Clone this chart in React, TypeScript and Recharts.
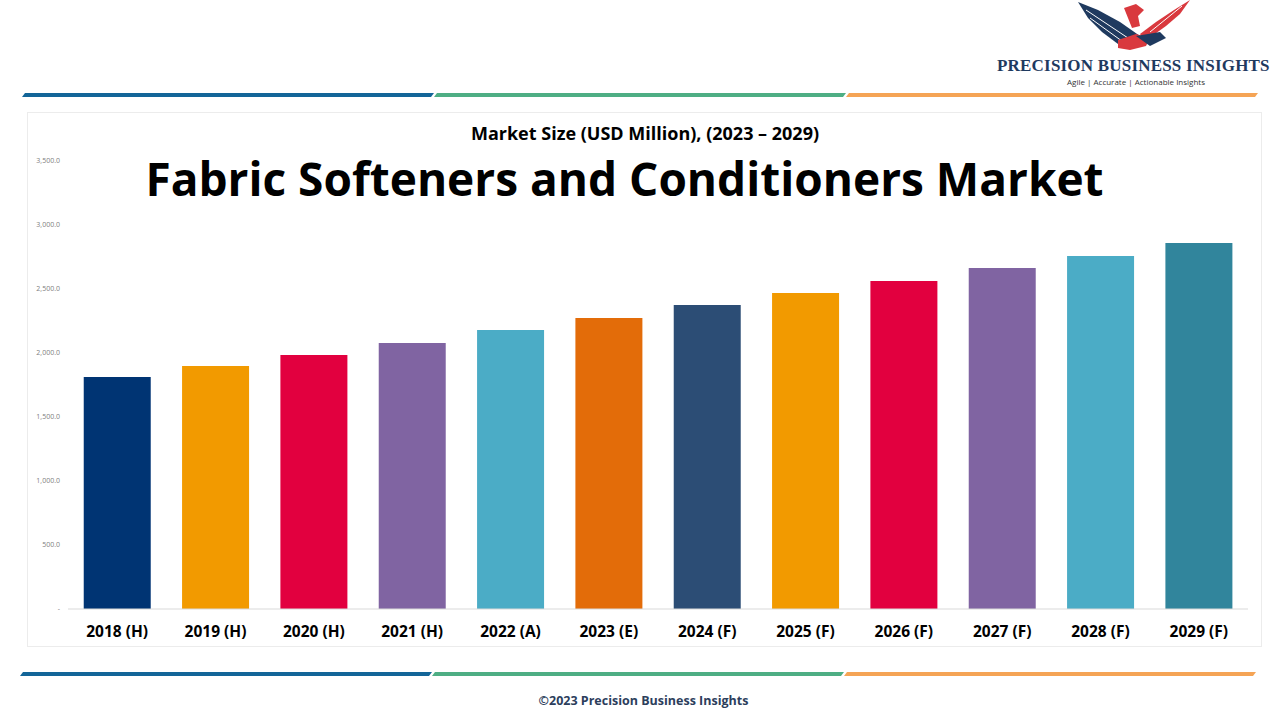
import React from 'react';
import { BarChart, Bar, XAxis, YAxis, Cell } from 'recharts';

const years = ['2018 (H)', '2019 (H)', '2020 (H)', '2021 (H)', '2022 (A)', '2023 (E)', '2024 (F)', '2025 (F)', '2026 (F)', '2027 (F)', '2028 (F)', '2029 (F)'];
const marketSize = [1812, 1898, 1984, 2078, 2180, 2273, 2375, 2469, 2563, 2664, 2758, 2859];
const barColors = ['#003473', '#F29A00', '#E2003F', '#8064A2', '#4BACC6', '#E36C09', '#2C4D75', '#F29A00', '#E2003F', '#8064A2', '#4BACC6', '#31859C'];
const yTicks = [0, 500, 1000, 1500, 2000, 2500, 3000, 3500];

const chartData = years.map((year, i) => ({ year, value: marketSize[i] }));

const FONT = '"Open Sans", "Noto Sans", sans-serif';

const fmtTick = (v: number) =>
  v === 0 ? '-' : v.toLocaleString('en-US', { minimumFractionDigits: 1, maximumFractionDigits: 1 });

// three-colour slanted stripe used above and below the chart
const Stripe = ({ y, x0 }: { y: number; x0: number }) => {
  const seg = 409;
  const cols = ['#136598', '#4EAE84', '#F5A455'];
  return (
    <svg style={{ position: 'absolute', left: 0, top: y, overflow: 'visible' }} width={1280} height={4}>
      {cols.map((c, i) => {
        const a = x0 + i * (seg + 3);
        return <polygon key={c} points={`${a + 3},0 ${a + seg + 3},0 ${a + seg},4 ${a},4`} fill={c} />;
      })}
    </svg>
  );
};

const Logo = () => (
  <div style={{ position: 'absolute', left: 990, top: 0, width: 290, height: 92 }}>
    <svg width={290} height={52} style={{ position: 'absolute', left: 0, top: 0 }}>
      {/* navy wing */}
      <polygon points="88,2 108,10 130,22 150,36 146,46 128,44 112,32 98,18" fill="#1F3A5F" />
      <polyline points="96,10 138,38" stroke="#fff" strokeWidth={1} />
      <polyline points="100,18 136,44" stroke="#fff" strokeWidth={1} />
      {/* red wing and head */}
      <polygon points="200,0 190,14 176,26 162,36 154,40 150,34 166,22 184,10" fill="#D9393E" />
      <polyline points="192,6 160,32" stroke="#fff" strokeWidth={1} />
      <polygon points="134,8 146,4 154,10 148,16 150,26 142,28 138,18" fill="#D9393E" />
      {/* clasped hands */}
      <polygon points="128,40 146,34 160,38 156,46 140,50 128,48" fill="#D9393E" />
      <polygon points="146,36 170,32 176,38 160,46" fill="#1F3A5F" />
    </svg>
    <div style={{ position: 'absolute', left: 7, top: 56, fontFamily: '"Liberation Serif", serif', fontWeight: 700, fontSize: 17, color: '#1F3A5F', whiteSpace: 'nowrap', letterSpacing: 0.2 }}>
      PRECISION BUSINESS INSIGHTS
    </div>
    <div style={{ position: 'absolute', left: 77, top: 76, fontFamily: FONT, fontSize: 8, color: '#333', whiteSpace: 'nowrap' }}>
      Agile | Accurate | Actionable Insights
    </div>
  </div>
);

export default function App() {
  return (
    <div style={{ position: 'fixed', left: 0, top: 0, width: 1280, height: 720, background: '#fff', overflow: 'hidden' }}>
      <Logo />
      <Stripe y={93} x0={22} />
      <div style={{ position: 'absolute', left: 27, top: 112, width: 1235, height: 535, border: '1px solid #ececec', boxSizing: 'border-box' }} />
      <BarChart
        width={1280}
        height={720}
        data={chartData}
        style={{ position: 'absolute', left: 0, top: 0 }}
        margin={{ top: 161, right: 32, left: 28, bottom: 81 }}
        barCategoryGap="16%"
      >
        <YAxis
          width={40}
          domain={[0, 3500]}
          ticks={yTicks}
          axisLine={false}
          tickLine={false}
          tickFormatter={fmtTick}
          tick={{ fontSize: 7, fill: '#808080', fontFamily: FONT }}
        />
        <XAxis
          dataKey="year"
          height={30}
          axisLine={{ stroke: '#d9d9d9' }}
          tickLine={false}
          tickMargin={11}
          interval={0}
          tick={{ fontSize: 15.5, fontWeight: 700, fill: '#000', fontFamily: FONT }}
        />
        <Bar dataKey="value" isAnimationActive={false}>
          {chartData.map((d, i) => (
            <Cell key={d.year} fill={barColors[i]} />
          ))}
        </Bar>
      </BarChart>
      <div style={{ position: 'absolute', left: 0, width: 1290, top: 121, textAlign: 'center', fontFamily: FONT, fontWeight: 700, fontSize: 18, color: '#000' }}>
        Market Size (USD Million), (2023 – 2029)
      </div>
      <div style={{ position: 'absolute', left: 0, width: 1249, top: 147, textAlign: 'center', fontFamily: FONT, fontWeight: 700, fontSize: 46, color: '#000', whiteSpace: 'nowrap' }}>
        Fabric Softeners and Conditioners Market
      </div>
      <Stripe y={672} x0={20} />
      <div style={{ position: 'absolute', left: 0, width: 1287, top: 692, textAlign: 'center', fontFamily: FONT, fontWeight: 700, fontSize: 12.5, color: '#2C3E5C' }}>
        ©2023 Precision Business Insights
      </div>
    </div>
  );
}
